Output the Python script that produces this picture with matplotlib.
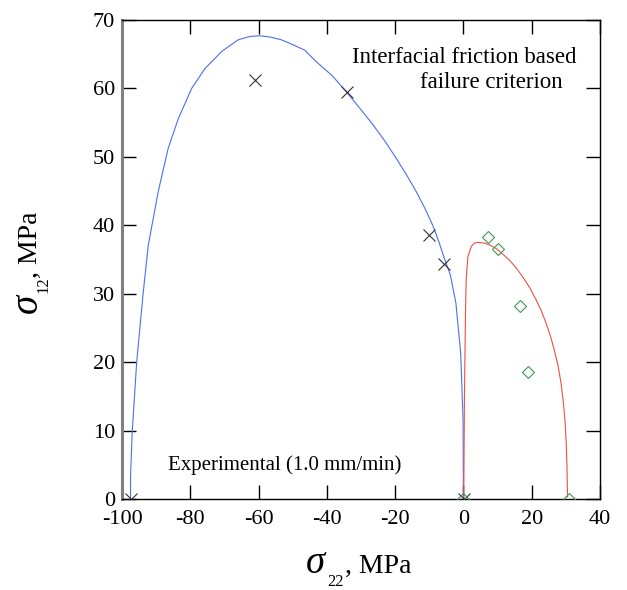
import matplotlib.pyplot as plt
import matplotlib.ticker as mticker

plt.rcParams["font.family"] = ["Liberation Serif", "DejaVu Serif"]
plt.rcParams["axes.unicode_minus"] = False

# ── Data ─────────────────────────────────────────────────────────────────────
# failure envelope, compressive side (blue)
env_c_s22 = [-97.5, -97.5, -97.0, -95.7, -93.8, -92.3, -89.4, -86.5, -83.5,
             -79.6, -75.7, -70.8, -66.0, -62.5, -59.6, -56.5, -53.3, -50.9,
             -46.5, -43.1, -38.5, -34.3, -30.5, -26.5, -23.0, -19.7, -16.7,
             -13.8, -11.3, -9.0, -7.2, -5.6, -3.8, -2.2, -0.8, -0.1, 0.0]
env_c_s12 = [0.0, 3.3, 9.9, 20.0, 30.1, 37.1, 44.9, 51.2, 55.6,
             60.0, 62.9, 65.4, 67.1, 67.6, 67.7, 67.5, 67.1, 66.6,
             65.6, 63.9, 61.9, 59.5, 57.2, 54.7, 52.3, 49.8, 47.4,
             44.9, 42.5, 40.0, 37.6, 35.2, 32.7, 28.6, 21.3, 11.5, 0.0]

# failure envelope, tensile side (red)
env_t_s22 = [0.1, 0.3, 0.6, 0.8, 1.3, 2.3, 3.2, 4.2, 6.1, 7.8, 9.6, 11.5,
             13.5, 15.4, 17.3, 19.4, 21.3, 22.8, 24.2, 25.5, 26.6, 27.7,
             28.6, 29.3, 29.8, 30.1, 30.3, 30.5]
env_t_s12 = [0.0, 15.0, 27.1, 32.0, 35.4, 36.9, 37.4, 37.5, 37.4, 37.1,
             36.6, 35.8, 34.9, 33.8, 32.5, 30.9, 29.1, 27.5, 25.7, 23.8,
             21.8, 19.5, 16.9, 14.0, 11.1, 8.2, 5.2, 0.3]

# experimental points
exp_c_s22 = [-97.5, -61.0, -34.2, -10.1, -5.6, 0.3]
exp_c_s12 = [0.0, 61.2, 59.5, 38.6, 34.3, 0.0]
exp_t_s22 = [0.0, 7.1, 10.2, 16.6, 18.8, 30.9]
exp_t_s12 = [0.0, 38.3, 36.6, 28.2, 18.5, 0.0]

W, H = 627, 590
fig = plt.figure(figsize=(W / 100, H / 100), dpi=100)
ax = fig.add_axes([122 / W, 1 - 499 / H, (600 - 122) / W, (499 - 20) / H])

ax.plot(env_c_s22, env_c_s12, color="#4f6ef0", linewidth=0.8, zorder=2)
ax.plot(env_t_s22, env_t_s12, color="#f05040", linewidth=0.8, zorder=2)
ax.plot(exp_c_s22, exp_c_s12, linestyle="none", marker="x", markersize=8,
        markeredgewidth=0.8, color="#333333", zorder=3)
ax.plot(exp_t_s22, exp_t_s12, linestyle="none", marker="D", markersize=6,
        markeredgewidth=0.8, markerfacecolor="none", markeredgecolor="#3a9a55",
        zorder=3)

ax.set_xlim(-100, 40)
ax.set_ylim(0, 70)
ax.xaxis.set_major_locator(mticker.MultipleLocator(20))
ax.yaxis.set_major_locator(mticker.MultipleLocator(10))
ax.tick_params(direction="in", length=10, width=1, labelsize=16,
               top=True, right=True, colors="black")
ax.tick_params(axis="x", pad=8)
ax.tick_params(axis="y", pad=5)

for side in ["top", "right", "bottom"]:
    ax.spines[side].set_linewidth(1.0)
ax.spines["left"].set_color("#808080")
ax.spines["left"].set_linewidth(2.2)

# annotations
ax.text(-32.6, 63.7, "Interfacial friction based", fontsize=16.5, ha="left",
        va="baseline")
ax.text(-12.7, 60.1, "failure criterion", fontsize=16.5, ha="left",
        va="baseline")
ax.text(-86.5, 4.2, "Experimental (1.0 mm/min)", fontsize=15, ha="left",
        va="baseline")


def ftext(x, y, s, **kw):
    fig.text(x / W, 1 - y / H, s, ha="left", va="baseline",
             rotation_mode="anchor", **kw)


# x axis label
ftext(306, 573, "σ", fontsize=28, style="italic")
ftext(327, 586, "22", fontsize=12)
ftext(345, 573, ", MPa", fontsize=20)

# y axis label (rotated)
ftext(37, 313, "σ", fontsize=28, style="italic", rotation=90)
ftext(47, 293, "12", fontsize=12, rotation=90)
ftext(37, 278, ", MPa", fontsize=20, rotation=90)

fig.savefig("out.png", dpi=100)
